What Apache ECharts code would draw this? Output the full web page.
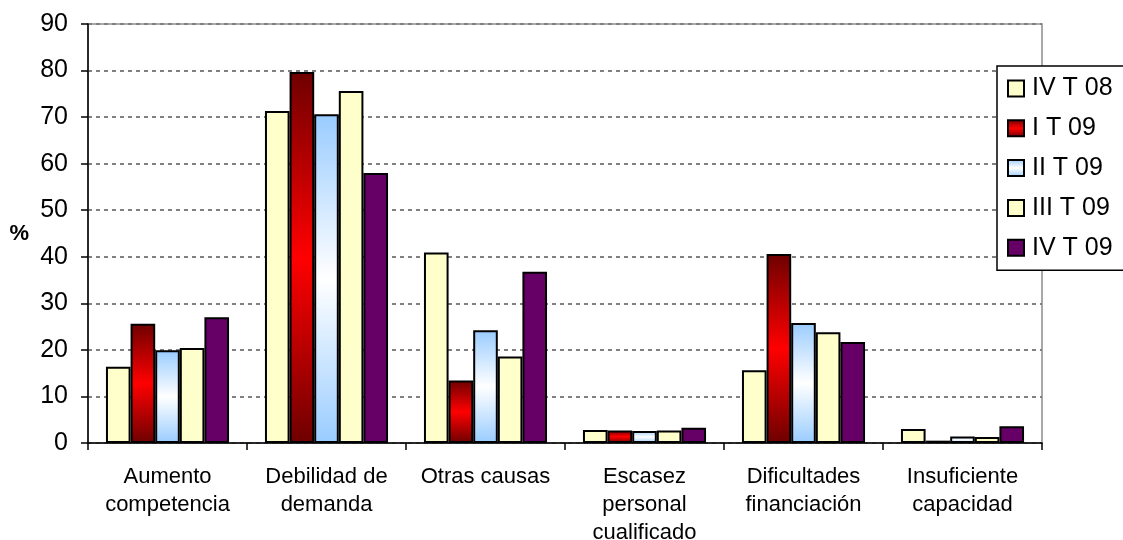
<!DOCTYPE html>
<html>
<head>
<meta charset="utf-8">
<script src="https://cdn.jsdelivr.net/npm/echarts@6/dist/echarts.min.js"></script>
<style>
html,body{margin:0;padding:0;background:#fff;}
#chart{width:1123px;height:540px;}
</style>
</head>
<body>
<div id="chart"></div>
<script>
const categories = ['Aumento\ncompetencia', 'Debilidad de\ndemanda', 'Otras causas', 'Escasez\npersonal\ncualificado', 'Dificultades\nfinanciación', 'Insuficiente\ncapacidad'];
const seriesNames = ['IV T 08', 'I T 09', 'II T 09', 'III T 09', 'IV T 09'];
const ivT08 = [16.4, 71.3, 40.9, 2.8, 15.6, 3.0];
const iT09 = [25.6, 79.7, 13.4, 2.7, 40.6, 0.5];
const iiT09 = [19.9, 70.6, 24.2, 2.6, 25.8, 1.4];
const iiiT09 = [20.4, 75.6, 18.6, 2.7, 23.8, 1.3];
const ivT09 = [27.0, 58.0, 36.8, 3.3, 21.7, 3.6];
const yTicks = [0, 10, 20, 30, 40, 50, 60, 70, 80, 90];

const FONT = '"Liberation Sans", Arial, sans-serif';
function vgrad(edge, mid) {
  return new echarts.graphic.LinearGradient(0, 0, 0, 1, [
    {offset: 0, color: edge}, {offset: 0.5, color: mid}, {offset: 1, color: edge}
  ]);
}
const fills = ['#FFFFCC', vgrad('#6E0000', '#FF0000'), vgrad('#99CCFF', '#FFFFFF'), '#FFFFCC', '#660066'];
const values = [ivT08, iT09, iiT09, iiiT09, ivT09];

const chart = echarts.init(document.getElementById('chart'), null, {renderer: 'canvas'});
chart.setOption({
  animation: false,
  backgroundColor: '#ffffff',
  grid: {left: 88, right: 81, top: 24, bottom: 97, containLabel: false, outerBoundsMode: 'none',
    show: true, borderColor: '#8c8c8c', borderWidth: 1.5, backgroundColor: 'transparent'},
  legend: {
    orient: 'vertical', left: 997, top: 66,
    backgroundColor: '#ffffff', borderColor: '#000', borderWidth: 1.5,
    padding: [10, 20, 10, 10],
    itemWidth: 16, itemHeight: 16, itemGap: 14.8,
    icon: 'rect',
    textStyle: {fontFamily: FONT, fontSize: 25, lineHeight: 25, color: '#000', padding: [0, 0, 0, 3]},
    data: seriesNames
  },
  xAxis: {
    type: 'category', data: categories, boundaryGap: true,
    axisLine: {lineStyle: {color: '#000', width: 1.5}},
    axisTick: {show: true, length: 7, lineStyle: {color: '#000', width: 1.5}},
    axisLabel: {fontFamily: FONT, fontSize: 22, lineHeight: 28, color: '#000', margin: 20, interval: 0}
  },
  yAxis: {
    type: 'value', min: 0, max: 90, interval: 10,
    name: '%', nameLocation: 'middle', nameGap: 59, nameRotate: 0,
    nameTextStyle: {fontFamily: FONT, fontSize: 22, fontWeight: 'bold', color: '#000'},
    axisLine: {show: true, lineStyle: {color: '#000', width: 1.5}},
    axisTick: {show: true, length: 7, lineStyle: {color: '#000', width: 1.5}},
    axisLabel: {fontFamily: FONT, fontSize: 25, color: '#000', margin: 20,
      formatter: v => yTicks.includes(v) ? String(v) : ''},
    splitLine: {show: true, lineStyle: {color: '#808080', width: 2, type: [4, 4]}}
  },
  series: seriesNames.map((name, i) => ({
    name: name, type: 'bar', data: values[i],
    barCategoryGap: '22.6%', barGap: '0%',
    itemStyle: {color: fills[i], borderColor: '#000', borderWidth: 2}
  }))
});
</script>
</body>
</html>
